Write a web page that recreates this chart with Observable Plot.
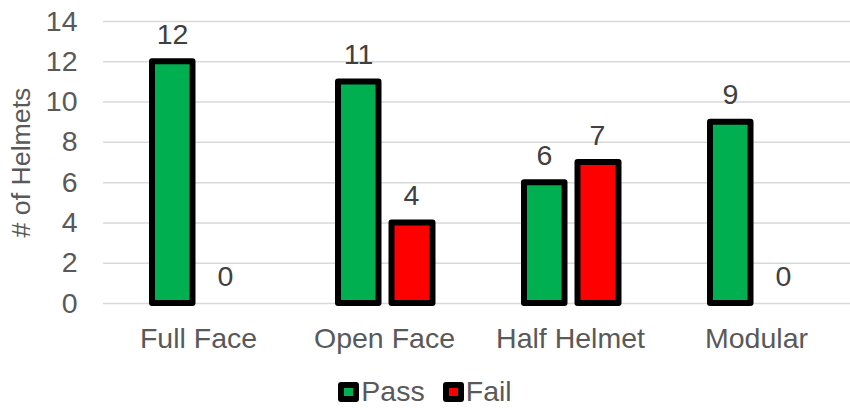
<!DOCTYPE html>
<html>
<head>
<meta charset="utf-8">
<script src="https://cdn.jsdelivr.net/npm/d3@7"></script>
<script src="https://cdn.jsdelivr.net/npm/@observablehq/plot@0.6"></script>
<style>
  html, body { margin: 0; padding: 0; background: #fff; }
  body { position: relative; width: 850px; height: 408px; overflow: hidden; font-family: "Liberation Sans", Arial, sans-serif; }
  #legend { position: absolute; left: 0; top: 375px; width: 850px; height: 33px; display: flex; justify-content: center; align-items: center; font-size: 28.5px; line-height: 33px; color: #595959; }
  .item { display: flex; align-items: center; margin: 0 9px; }
  .sw { width: 9px; height: 8px; border: 6px solid #000; border-radius: 3px; margin-right: 2px; }
</style>
</head>
<body>
<div id="chart"></div>
<div id="legend"></div>
<script>
const categories = ["Full Face", "Open Face", "Half Helmet", "Modular"];
const passValues = [12, 11, 6, 9];
const failValues = [0, 4, 7, 0];
const yTicks = [0, 2, 4, 6, 8, 10, 12, 14];
const seriesNames = ["Pass", "Fail"];
const seriesColors = ["#00B050", "#FF0000"];

const passRows = categories.map((c, i) => ({category: c, value: passValues[i]}));
const failRows = categories.map((c, i) => ({category: c, value: failValues[i]}));

const textColor = "#595959";
const fs = 28.5;

const chart = Plot.plot({
  width: 850,
  height: 360,
  marginLeft: 103,
  marginRight: 0,
  marginTop: 21,
  marginBottom: 57,
  style: {fontFamily: "'Liberation Sans', Arial, sans-serif", fontSize: fs + "px", color: textColor, background: "#fff"},
  x: {domain: categories, padding: 0, label: null},
  y: {domain: [0, 14], label: null},
  marks: [
    Plot.gridY(yTicks, {stroke: "#D9D9D9", strokeOpacity: 1, strokeWidth: 1.5}),
    Plot.axisY(yTicks, {tickSize: 0, tickPadding: 26, fill: textColor, fontSize: fs}),
    Plot.axisY({label: "# of Helmets", labelAnchor: "center", labelArrow: "none", labelOffset: 92,
      ticks: [], tickSize: 0, fill: textColor, fontSize: 26.7}),
    Plot.axisX({tickSize: 0, tickPadding: 24, fill: textColor, fontSize: fs, label: null}),
    Plot.barY(passRows.filter(d => d.value > 0), {x: "category", y: "value", fill: seriesColors[0],
      stroke: "#000", strokeWidth: 6, strokeLinejoin: "round", insetLeft: 47, insetRight: 98.5}),
    Plot.barY(failRows.filter(d => d.value > 0), {x: "category", y: "value", fill: seriesColors[1],
      stroke: "#000", strokeWidth: 6, strokeLinejoin: "round", insetLeft: 100.5, insetRight: 44.5}),
    Plot.text(passRows, {x: "category", y: "value", text: d => String(d.value), dx: -26, dy: -27,
      fill: "#404040", fontSize: fs}),
    Plot.text(failRows, {x: "category", y: "value", text: d => String(d.value), dx: 27, dy: -27,
      fill: "#404040", fontSize: fs})
  ]
});
document.getElementById("chart").appendChild(chart);

const legend = document.getElementById("legend");
seriesNames.forEach((name, i) => {
  const item = document.createElement("div");
  item.className = "item";
  const sw = document.createElement("div");
  sw.className = "sw";
  sw.style.background = seriesColors[i];
  const label = document.createElement("span");
  label.textContent = name;
  item.appendChild(sw);
  item.appendChild(label);
  legend.appendChild(item);
});
</script>
</body>
</html>
